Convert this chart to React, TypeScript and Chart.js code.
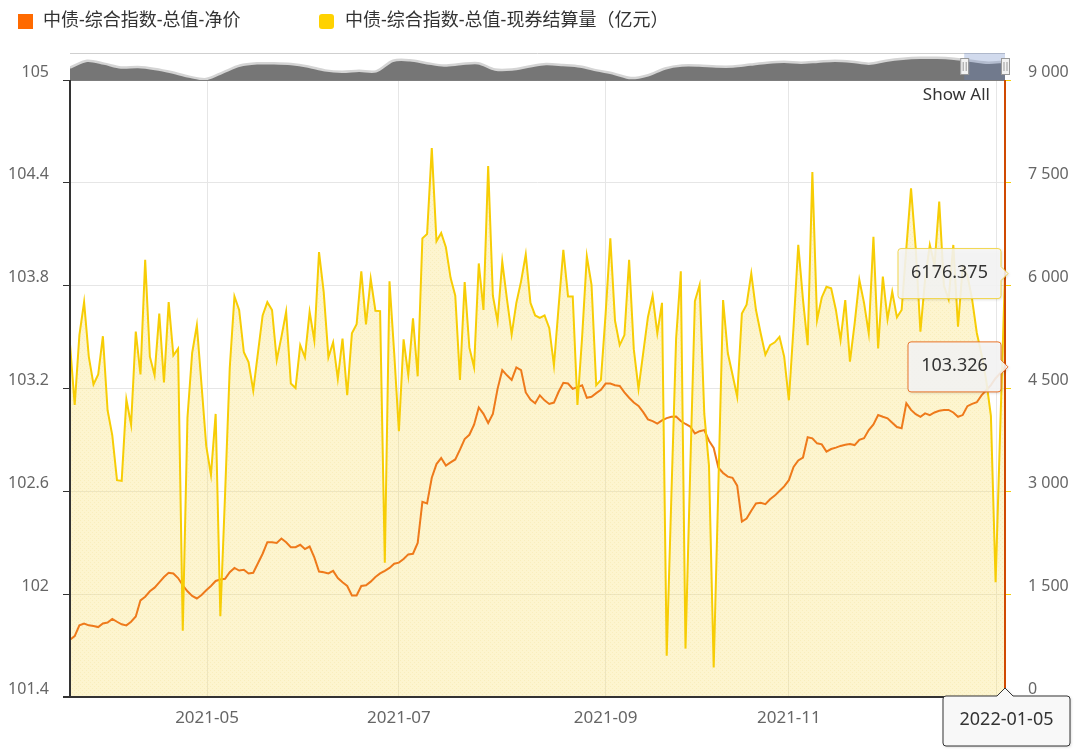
import React, { useEffect, useRef } from 'react';
import { Chart, registerables } from 'chart.js';

Chart.register(...registerables);

const FONT = "'Noto Sans', 'Noto Sans CJK SC', sans-serif";

const seriesNames = ['中债-综合指数-总值-净价', '中债-综合指数-总值-现券结算量（亿元）'];

// trading calendar (categories)
const firstDate = '2021-03-22';
const lastDate = '2022-01-05';
const closedWeekdays = [
  '2021-04-05', '2021-05-03', '2021-05-04', '2021-05-05', '2021-06-14', '2021-09-20', '2021-09-21',
  '2021-10-01', '2021-10-04', '2021-10-05', '2021-10-06', '2021-10-07', '2022-01-03',
];
const weekendWorkdays = ['2021-04-25', '2021-05-08', '2021-09-18', '2021-09-26', '2021-10-09'];

const netPrice = [
  101.734, 101.755, 101.818, 101.829, 101.818, 101.814, 101.808, 101.829, 101.835, 101.856,
  101.839, 101.824, 101.818, 101.839, 101.870, 101.964, 101.985, 102.017, 102.038, 102.069,
  102.100, 102.125, 102.121, 102.094, 102.052, 102.017, 101.990, 101.975, 101.995, 102.023,
  102.048, 102.077, 102.086, 102.090, 102.128, 102.153, 102.138, 102.142, 102.121, 102.125,
  102.180, 102.236, 102.303, 102.303, 102.299, 102.325, 102.303, 102.274, 102.274, 102.288,
  102.263, 102.278, 102.215, 102.132, 102.128, 102.121, 102.136, 102.094, 102.069, 102.048,
  101.992, 101.992, 102.048, 102.052, 102.073, 102.100, 102.121, 102.136, 102.153, 102.178,
  102.184, 102.205, 102.232, 102.236, 102.299, 102.539, 102.529, 102.679, 102.759, 102.794,
  102.750, 102.769, 102.786, 102.843, 102.905, 102.930, 102.989, 103.089, 103.052, 102.999,
  103.052, 103.198, 103.307, 103.277, 103.250, 103.323, 103.307, 103.177, 103.135, 103.114,
  103.160, 103.131, 103.110, 103.118, 103.181, 103.233, 103.229, 103.198, 103.208, 103.219,
  103.146, 103.152, 103.173, 103.192, 103.229, 103.229, 103.219, 103.215, 103.177, 103.146,
  103.118, 103.098, 103.062, 103.020, 103.010, 102.995, 103.014, 103.027, 103.035, 103.037,
  103.010, 102.993, 102.978, 102.937, 102.951, 102.957, 102.895, 102.853, 102.738, 102.707,
  102.686, 102.679, 102.633, 102.424, 102.441, 102.487, 102.529, 102.533, 102.525, 102.554,
  102.575, 102.602, 102.629, 102.665, 102.742, 102.780, 102.797, 102.916, 102.909, 102.880,
  102.874, 102.832, 102.847, 102.855, 102.865, 102.872, 102.876, 102.870, 102.900, 102.910,
  102.958, 102.990, 103.045, 103.035, 103.026, 103.000, 102.975, 102.968, 103.114, 103.075,
  103.050, 103.035, 103.055, 103.045, 103.060, 103.070, 103.075, 103.075, 103.060, 103.035,
  103.045, 103.097, 103.110, 103.120, 103.160, 103.190, 103.220, 103.260, 103.290, 103.326,
];

const settlementVolume = [
  5148, 4260, 5279, 5760, 4965, 4558, 4704, 5263, 4182, 3816,
  3162, 3152, 4338, 3972, 5331, 4704, 6376, 4965, 4694, 5593,
  4589, 5760, 4981, 5080, 967, 4077, 5018, 5425, 4547, 3659,
  3241, 4129, 1177, 2950, 4800, 5843, 5645, 5028, 4887, 4469,
  5018, 5566, 5760, 5645, 4913, 5253, 5619, 4573, 4506, 5133,
  4955, 5619, 5201, 6491, 5906, 4955, 5174, 4641, 5227, 4401,
  5305, 5436, 6209, 5436, 6099, 5634, 5629, 1960, 6063, 5018,
  3878, 5216, 4694, 5525, 4678, 6690, 6753, 8007, 6648, 6768,
  6560, 6115, 5854, 4626, 6052, 5096, 4809, 6324, 5645, 7746,
  5854, 5478, 6350, 5802, 5289, 5749, 6063, 6455, 5749, 5566,
  5530, 5566, 5383, 4835, 5697, 6523, 5843, 5843, 4260, 5253,
  6429, 6011, 4547, 4626, 5593, 6690, 5488, 5133, 5279, 6376,
  5070, 4495, 5018, 5540, 5854, 5305, 5749, 602, 2950, 5227,
  6209, 706, 3300, 5775, 6011, 4129, 3371, 429, 3100, 5791,
  5018, 4704, 4380, 5593, 5723, 6178, 5645, 5305, 4992, 5133,
  5174, 5253, 4965, 4328, 5400, 6596, 5800, 5133, 7657, 5498,
  5828, 5984, 5961, 5650, 5207, 5791, 4891, 5450, 6083, 5750,
  5305, 6714, 5085, 6131, 5509, 5912, 5538, 5645, 6545, 7420,
  6550, 5329, 6100, 6594, 6300, 7226, 6000, 5800, 6594, 5402,
  6275, 6150, 5800, 5310, 5000, 4620, 4100, 1673, 3950, 6176.375,
];

const monthTickLabels = ['2021-05', '2021-07', '2021-09', '2021-11', '2022-01'];
const leftTickValues = [101.4, 102, 102.6, 103.2, 103.8, 104.4, 105];
const rightTickValues = [0, 1500, 3000, 4500, 6000, 7500, 9000];

// navigator overview series (relative height units)
const navigatorValues = [
  13, 20, 17, 13, 13.5, 11.5, 8, 3.5, 1, 8,
  15, 17.3, 17.3, 16.5, 14, 10, 8.5, 9.5, 9, 20,
  20.5, 17.5, 15, 16.5, 17.5, 11, 11, 14, 16.5, 15.5,
  14, 10, 6.5, 2, 5, 12, 15, 15, 14, 14,
  16, 18, 19, 18, 19, 20, 19, 17, 20, 22,
  23, 23, 22, 20, 18, 19,
];
const navigatorSelectionStart = 52.6;

const COLORS = {
  orangeLine: '#EE7A1B',
  yellowLine: '#F7CD05',
  legendOrange: '#FF6A00',
  legendYellow: '#FFD200',
  grid: '#e6e6e6',
  axis: '#333333',
  label: '#666666',
  text: '#333333',
  crosshair: '#D04A02',
};

function buildTradingDays(): string[] {
  const out: string[] = [];
  let t = Date.parse(firstDate + 'T00:00:00Z');
  const end = Date.parse(lastDate + 'T00:00:00Z');
  while (t <= end) {
    const d = new Date(t);
    const s = d.toISOString().slice(0, 10);
    const wd = d.getUTCDay();
    const open = (wd !== 0 && wd !== 6 && !closedWeekdays.includes(s)) || weekendWorkdays.includes(s);
    if (open) out.push(s);
    t += 86400000;
  }
  return out;
}

const tradingDays = buildTradingDays();

function monthTickPositions(): number[] {
  return monthTickLabels.map((m) => {
    const ms = m + '-01';
    const j = tradingDays.findIndex((d) => d >= ms);
    if (tradingDays[j] === ms || j <= 0) return j;
    const tPrev = Date.parse(tradingDays[j - 1]);
    const tNext = Date.parse(tradingDays[j]);
    const tm = Date.parse(ms);
    return j - 1 + (tm - tPrev) / (tNext - tPrev);
  });
}

function fmtThousands(v: number): string {
  return String(v).replace(/\B(?=(\d{3})+(?!\d))/g, ' ');
}

function makeFillPattern(ctx: CanvasRenderingContext2D): CanvasPattern | string {
  const c = document.createElement('canvas');
  c.width = 4;
  c.height = 4;
  const g = c.getContext('2d');
  if (!g) return 'rgba(250,228,130,0.4)';
  g.fillStyle = 'rgba(250, 228, 130, 0.38)';
  g.fillRect(0, 0, 4, 4);
  g.fillStyle = 'rgba(230, 200, 80, 0.14)';
  g.fillRect(0, 0, 1, 1);
  g.fillRect(2, 2, 1, 1);
  return ctx.createPattern(c, 'repeat') || 'rgba(250,228,130,0.4)';
}

function calloutPath(
  ctx: CanvasRenderingContext2D,
  x: number, y: number, w: number, h: number,
  side: 'right' | 'top', tx: number, ty: number,
) {
  const r = 3;
  ctx.beginPath();
  ctx.moveTo(x + r, y);
  if (side === 'top') {
    ctx.lineTo(tx - 8, y);
    ctx.lineTo(tx, ty);
    ctx.lineTo(tx + 8, y);
  }
  ctx.lineTo(x + w - r, y);
  ctx.arcTo(x + w, y, x + w, y + r, r);
  if (side === 'right') {
    ctx.lineTo(x + w, ty - 7);
    ctx.lineTo(tx, ty);
    ctx.lineTo(x + w, ty + 7);
  }
  ctx.lineTo(x + w, y + h - r);
  ctx.arcTo(x + w, y + h, x + w - r, y + h, r);
  ctx.lineTo(x + r, y + h);
  ctx.arcTo(x, y + h, x, y + h - r, r);
  ctx.lineTo(x, y + r);
  ctx.arcTo(x, y, x + r, y, r);
  ctx.closePath();
}

function drawCallout(
  ctx: CanvasRenderingContext2D,
  x: number, y: number, w: number, h: number,
  side: 'right' | 'top', tx: number, ty: number,
  border: string, bg: string, text: string, fontSize: number,
) {
  ctx.save();
  calloutPath(ctx, x, y, w, h, side, tx, ty);
  ctx.shadowColor = 'rgba(0,0,0,0.18)';
  ctx.shadowBlur = 3;
  ctx.shadowOffsetX = 1;
  ctx.shadowOffsetY = 1;
  ctx.fillStyle = bg;
  ctx.fill();
  ctx.shadowColor = 'transparent';
  ctx.lineWidth = 1;
  ctx.strokeStyle = border;
  ctx.stroke();
  ctx.fillStyle = COLORS.text;
  ctx.font = `${fontSize}px ${FONT}`;
  ctx.textAlign = 'center';
  ctx.textBaseline = 'middle';
  ctx.fillText(text, x + w / 2, y + h / 2 - 1);
  ctx.restore();
}

const decorPlugin = {
  id: 'decor',
  afterDraw(chart: any) {
    const { ctx, chartArea: a, scales } = chart;
    const xs = scales.x;
    const yl = scales.yL;
    const yr = scales.yR;
    const last = settlementVolume.length - 1;
    const px = xs.getPixelForValue(last);
    ctx.save();

    // axis lines and top border
    ctx.strokeStyle = '#5a5a5a';
    ctx.lineWidth = 1.5;
    ctx.beginPath();
    ctx.moveTo(a.left, a.top);
    ctx.lineTo(a.right, a.top);
    ctx.stroke();
    ctx.strokeStyle = COLORS.axis;
    ctx.lineWidth = 2;
    ctx.beginPath();
    ctx.moveTo(a.left, a.top);
    ctx.lineTo(a.left, a.bottom);
    ctx.moveTo(a.left - 7, a.bottom);
    ctx.lineTo(a.right, a.bottom);
    ctx.stroke();

    // crosshair at the last point
    ctx.strokeStyle = COLORS.crosshair;
    ctx.lineWidth = 2;
    ctx.beginPath();
    ctx.moveTo(px, a.top);
    ctx.lineTo(px, a.bottom);
    ctx.stroke();

    // legend
    ctx.textBaseline = 'middle';
    ctx.textAlign = 'left';
    ctx.font = `18px ${FONT}`;
    ctx.fillStyle = COLORS.legendOrange;
    ctx.fillRect(18, 14, 15, 15);
    ctx.fillStyle = COLORS.text;
    ctx.fillText(seriesNames[0], 43, 21);
    ctx.fillStyle = COLORS.legendYellow;
    ctx.beginPath();
    ctx.moveTo(323, 14);
    ctx.arcTo(334, 14, 334, 29, 3);
    ctx.arcTo(334, 29, 319, 29, 3);
    ctx.arcTo(319, 29, 319, 14, 3);
    ctx.arcTo(319, 14, 334, 14, 3);
    ctx.closePath();
    ctx.fill();
    ctx.fillStyle = COLORS.text;
    ctx.fillText(seriesNames[1], 345, 21);

    // Show All button text
    ctx.font = `17px ${FONT}`;
    ctx.textAlign = 'right';
    ctx.fillStyle = COLORS.text;
    ctx.fillText('Show All', 990, 95);

    // value tooltips at the last point
    const vy = yr.getPixelForValue(settlementVolume[last]);
    const ny = yl.getPixelForValue(netPrice[last]);
    drawCallout(ctx, px - 107, vy - 25, 103, 50, 'right', px + 3, vy,
      '#F2D64B', 'rgba(247,247,247,0.88)', String(settlementVolume[last]), 18);
    drawCallout(ctx, px - 97, ny - 25, 93, 50, 'right', px + 3, ny,
      '#E8742A', 'rgba(247,247,247,0.88)', netPrice[last].toFixed(3), 18);
    drawCallout(ctx, px - 62, a.bottom - 1, 127, 50, 'top', px, a.bottom - 9,
      '#333333', 'rgba(248,248,248,1)', tradingDays[last], 18);

    ctx.restore();
  },
};

const navigatorPlugin = {
  id: 'navDecor',
  afterDraw(chart: any) {
    const { ctx, chartArea: a, scales } = chart;
    const x0 = scales.x.getPixelForValue(navigatorSelectionStart);
    const x1 = scales.x.getPixelForValue(navigatorValues.length - 1);
    ctx.save();
    ctx.strokeStyle = '#cfcfcf';
    ctx.lineWidth = 1;
    ctx.beginPath();
    ctx.moveTo(a.left, 0.5);
    ctx.lineTo(a.right, 0.5);
    ctx.stroke();
    ctx.fillStyle = 'rgba(102,133,194,0.3)';
    ctx.fillRect(x0, 0, x1 - x0, chart.height);
    [x0, x1].forEach((hx) => {
      ctx.fillStyle = '#f2f2f2';
      ctx.strokeStyle = '#999999';
      ctx.lineWidth = 1;
      ctx.fillRect(hx - 4, 5.5, 8, 16);
      ctx.strokeRect(hx - 4 + 0.5, 5.5, 8, 16);
      ctx.beginPath();
      ctx.moveTo(hx - 1, 9);
      ctx.lineTo(hx - 1, 18);
      ctx.moveTo(hx + 2, 9);
      ctx.lineTo(hx + 2, 18);
      ctx.stroke();
    });
    ctx.restore();
  },
};

export default function App() {
  const mainRef = useRef<HTMLCanvasElement>(null);
  const navRef = useRef<HTMLCanvasElement>(null);

  useEffect(() => {
    document.body.style.margin = '0';
    const mainCanvas = mainRef.current;
    const navCanvas = navRef.current;
    if (!mainCanvas || !navCanvas) return;
    const mctx = mainCanvas.getContext('2d') as CanvasRenderingContext2D;
    const pattern = makeFillPattern(mctx);
    const tickPos = monthTickPositions();

    const main = new Chart(mctx, {
      type: 'line',
      data: {
        datasets: [
          {
            label: seriesNames[1],
            data: settlementVolume.map((v, i) => ({ x: i, y: v })),
            yAxisID: 'yR',
            borderColor: COLORS.yellowLine,
            backgroundColor: pattern as any,
            borderWidth: 2,
            pointRadius: 0,
            fill: 'origin',
            tension: 0,
            order: 0,
          },
          {
            label: seriesNames[0],
            data: netPrice.map((v, i) => ({ x: i, y: v })),
            yAxisID: 'yL',
            borderColor: COLORS.orangeLine,
            borderWidth: 2,
            pointRadius: 0,
            fill: false,
            tension: 0,
            order: 1,
          },
        ],
      },
      options: {
        responsive: false,
        devicePixelRatio: 1,
        animation: false,
        events: [],
        layout: { padding: { top: 80, left: 0, right: 0, bottom: 0 } },
        plugins: {
          legend: { display: false },
          tooltip: { enabled: false },
          filler: { drawTime: 'beforeDatasetsDraw' },
        } as any,
        scales: {
          x: {
            type: 'linear',
            min: 0,
            max: tradingDays.length - 1,
            afterBuildTicks: (s: any) => {
              s.ticks = tickPos.map((v) => ({ value: v }));
            },
            afterFit: (s: any) => {
              s.height = 56;
            },
            ticks: {
              autoSkip: false,
              maxRotation: 0,
              color: COLORS.label,
              font: { family: FONT, size: 17 },
              padding: 11,
              callback: (_v: any, idx: number) => monthTickLabels[idx],
            },
            grid: { color: COLORS.grid, drawTicks: false },
            border: { display: false },
          },
          yL: {
            type: 'linear',
            position: 'left',
            min: 101.4,
            max: 105,
            afterBuildTicks: (s: any) => {
              s.ticks = leftTickValues.map((v) => ({ value: v }));
            },
            afterFit: (s: any) => {
              s.width = 70;
            },
            ticks: {
              color: COLORS.label,
              font: { family: FONT, size: 16 },
              padding: 14,
              labelOffset: -8,
              callback: (v: any) => String(v),
            },
            grid: { color: COLORS.grid, tickColor: COLORS.axis, tickLength: 7, drawTicks: true },
            border: { display: false },
          },
          yR: {
            type: 'linear',
            position: 'right',
            min: 0,
            max: 9000,
            afterBuildTicks: (s: any) => {
              s.ticks = rightTickValues.map((v) => ({ value: v }));
            },
            afterFit: (s: any) => {
              s.width = 75;
            },
            ticks: {
              color: COLORS.label,
              font: { family: FONT, size: 16 },
              padding: 17,
              labelOffset: -8,
              callback: (v: any) => fmtThousands(Number(v)),
            },
            grid: { drawOnChartArea: false, tickColor: COLORS.yellowLine, tickLength: 6 },
            border: { display: false },
          },
        },
      } as any,
      plugins: [decorPlugin],
    });

    const nav = new Chart(navCanvas, {
      type: 'line',
      data: {
        datasets: [
          {
            data: navigatorValues.map((v, i) => ({ x: i, y: v })),
            borderColor: '#d4d4d4',
            backgroundColor: '#767676',
            borderWidth: 2.5,
            pointRadius: 0,
            fill: 'origin',
            tension: 0.3,
          },
        ],
      },
      options: {
        responsive: false,
        devicePixelRatio: 1,
        animation: false,
        events: [],
        layout: { padding: { top: 1, right: 13, bottom: 0, left: 0 } },
        plugins: { legend: { display: false }, tooltip: { enabled: false } },
        scales: {
          x: { type: 'linear', display: false, min: 0, max: navigatorValues.length - 1 },
          y: { display: false, min: 0, max: 27 },
        },
      } as any,
      plugins: [navigatorPlugin],
    });

    return () => {
      main.destroy();
      nav.destroy();
    };
  }, []);

  return (
    <div style={{ position: 'relative', width: 1080, height: 753, background: '#ffffff' }}>
      <canvas ref={mainRef} width={1080} height={753} style={{ position: 'absolute', left: 0, top: 0 }} />
      <canvas ref={navRef} width={948} height={27} style={{ position: 'absolute', left: 70, top: 53 }} />
    </div>
  );
}
